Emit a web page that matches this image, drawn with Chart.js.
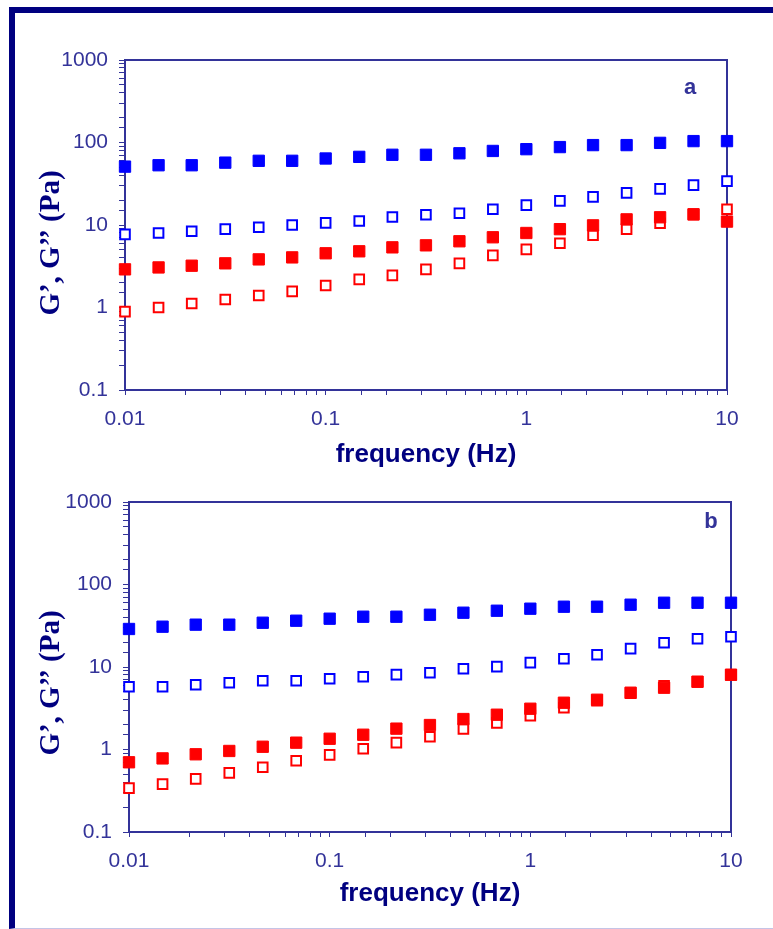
<!DOCTYPE html>
<html>
<head>
<meta charset="utf-8">
<script src="https://cdn.jsdelivr.net/npm/chart.js@4/dist/chart.umd.min.js"></script>
<style>
  body { margin: 0; width: 773px; height: 929px; background: #fff; position: relative; overflow: hidden; }
  #frame {
    position: absolute; left: 9px; top: 7px; right: -10px; bottom: 0;
    border-left: 6px solid #000080; border-top: 6px solid #000080;
    border-bottom: 1px solid #c4c4e6;
  }
  canvas { position: absolute; left: 0; }
  #chartA { top: 0; }
  #chartB { top: 470px; }
</style>
</head>
<body>
<div id="frame"></div>
<canvas id="chartA" width="773" height="470"></canvas>
<canvas id="chartB" width="773" height="459"></canvas>
<script>
"use strict";

// частоты (Hz), общие для обеих панелей
const frequencies = [0.01, 0.0147, 0.0215, 0.0316, 0.0464, 0.0681, 0.1, 0.147, 0.215, 0.316,
  0.464, 0.681, 1, 1.47, 2.15, 3.16, 4.64, 6.81, 10];

// панель a
const gPrimeBlueA = [51, 53, 53, 57, 60, 60, 64, 67, 71, 71, 74, 79, 83, 88, 93, 93, 99, 104, 104];
const gDoubleBlueA = [7.7, 8.0, 8.4, 8.9, 9.4, 10.0, 10.6, 11.2, 12.5, 13.3, 13.9, 15.5, 17.4, 19.6, 21.9, 24.5, 27.4, 30.4, 34.0];
const gPrimeRedA = [2.9, 3.06, 3.21, 3.43, 3.83, 4.05, 4.54, 4.8, 5.36, 5.67, 6.35, 7.1, 8.0, 8.9, 9.9, 11.7, 12.4, 13.5, 11.0];
const gDoubleRedA = [0.89, 1.0, 1.12, 1.25, 1.4, 1.57, 1.85, 2.19, 2.45, 2.9, 3.43, 4.29, 5.07, 6.0, 7.5, 8.9, 10.5, 13.3, 15.5];

// панель b
const gPrimeBlueB = [28.9, 30.8, 32.6, 32.6, 34.4, 36.4, 38.5, 40.7, 40.7, 43.0, 45.5, 48.1, 50.9, 53.8, 53.8, 56.9, 60.1, 60.1, 60.1];
const gDoubleBlueB = [5.77, 5.77, 6.1, 6.45, 6.82, 6.82, 7.21, 7.63, 8.07, 8.53, 9.54, 10.1, 11.3, 12.6, 14.1, 16.7, 19.7, 22.0, 23.3];
const gPrimeRedB = [0.7, 0.78, 0.875, 0.96, 1.08, 1.21, 1.35, 1.51, 1.79, 1.98, 2.34, 2.64, 3.12, 3.69, 4.01, 4.88, 5.61, 6.64, 8.07];
const gDoubleRedB = [0.34, 0.38, 0.44, 0.52, 0.61, 0.73, 0.86, 1.02, 1.21, 1.43, 1.77, 2.1, 2.57, 3.21, 3.9, 4.8, 5.9, 6.6, 8.0];

// подписи делений
const xTickLabels = ["0.01", "0.1", "1", "10"];
const yTickLabels = ["0.1", "1", "10", "100", "1000"];
const xTitle = "frequency (Hz)";
const yTitle = "G’, G’’ (Pa)";

const AXIS = "#333399";
const NAVY = "#000080";

function toPoints(values) {
  return frequencies.map((f, i) => ({ x: f, y: values[i] }));
}

function filledSet(values, color) {
  return {
    data: toPoints(values),
    pointStyle: "rect",
    pointRadius: 8,
    backgroundColor: color,
    borderColor: color,
    borderWidth: 1,
    showLine: false,
    clip: false,
  };
}

function openSet(values, color) {
  return {
    data: toPoints(values),
    pointStyle: "rect",
    pointRadius: 6.8,
    backgroundColor: "#ffffff",
    borderColor: color,
    borderWidth: 2,
    showLine: false,
    clip: false,
  };
}

// подпись только для степеней десяти
function decadeLabel(labels, first) {
  return (value) => {
    const e = Math.log10(value);
    if (Math.abs(e - Math.round(e)) > 1e-6) return "";
    return labels[Math.round(e) - first] || "";
  };
}

// рамка графика, буква панели и подпись оси Y
const panelDecor = {
  id: "panelDecor",
  beforeDatasetsDraw(chart) {
    const { ctx, chartArea: a } = chart;
    ctx.save();
    ctx.strokeStyle = AXIS;
    ctx.lineWidth = 2;
    ctx.strokeRect(a.left, a.top, a.right - a.left, a.bottom - a.top);
    ctx.restore();
  },
  afterDraw(chart, args, opts) {
    const ctx = chart.ctx;
    ctx.save();
    ctx.fillStyle = AXIS;
    ctx.font = "bold 22px 'Liberation Sans', Arial, sans-serif";
    ctx.textAlign = "center";
    ctx.textBaseline = "middle";
    ctx.fillText(opts.letter, opts.letterX, opts.letterY);

    ctx.translate(opts.titleX, opts.titleY);
    ctx.rotate(-Math.PI / 2);
    ctx.fillStyle = NAVY;
    ctx.font = "bold 29px 'Liberation Serif', 'Times New Roman', serif";
    ctx.fillText(yTitle, 0, 0);
    ctx.restore();
  },
};

function makePanel(id, sets, cfg) {
  const tickFont = { family: "'Liberation Sans', Arial, sans-serif", size: 21 };
  return new Chart(document.getElementById(id), {
    type: "scatter",
    data: {
      datasets: [
        filledSet(sets[0], "#0000ff"),
        filledSet(sets[2], "#ff0000"),
        openSet(sets[1], "#0000ff"),
        openSet(sets[3], "#ff0000"),
      ],
    },
    options: {
      responsive: false,
      animation: false,
      layout: { padding: { left: 0, top: cfg.top, right: cfg.right, bottom: 0 } },
      plugins: {
        legend: { display: false },
        tooltip: { enabled: false },
        panelDecor: cfg.decor,
      },
      scales: {
        x: {
          type: "logarithmic",
          min: 0.01,
          max: 10,
          afterFit: (scale) => { scale.height = cfg.xHeight; },
          border: { display: true, color: AXIS, width: 2 },
          grid: { drawOnChartArea: false, drawTicks: true, tickLength: 5, color: AXIS, lineWidth: 1 },
          ticks: {
            autoSkip: false,
            maxRotation: 0,
            padding: 12,
            color: AXIS,
            font: tickFont,
            callback: decadeLabel(xTickLabels, -2),
          },
          title: {
            display: true,
            text: xTitle,
            color: NAVY,
            font: { family: "'Liberation Sans', Arial, sans-serif", size: 26, weight: "bold" },
            padding: { top: 0, bottom: cfg.titlePad },
          },
        },
        y: {
          type: "logarithmic",
          min: 0.1,
          max: 1000,
          afterFit: (scale) => { scale.width = cfg.yWidth; },
          border: { display: true, color: AXIS, width: 2 },
          grid: { drawOnChartArea: false, drawTicks: true, tickLength: 6, color: AXIS, lineWidth: 1 },
          ticks: {
            autoSkip: false,
            padding: 11,
            color: AXIS,
            font: tickFont,
            callback: decadeLabel(yTickLabels, -1),
          },
        },
      },
    },
    plugins: [panelDecor],
  });
}

makePanel("chartA", [gPrimeBlueA, gDoubleBlueA, gPrimeRedA, gDoubleRedA], {
  top: 60, right: 46, xHeight: 80, yWidth: 125, titlePad: 0,
  decor: { letter: "a", letterX: 690, letterY: 88, titleX: 52, titleY: 243 },
});

makePanel("chartB", [gPrimeBlueB, gDoubleBlueB, gPrimeRedB, gDoubleRedB], {
  top: 32, right: 42, xHeight: 97, yWidth: 129, titlePad: 20,
  decor: { letter: "b", letterX: 711, letterY: 52, titleX: 52, titleY: 213 },
});
</script>
</body>
</html>
